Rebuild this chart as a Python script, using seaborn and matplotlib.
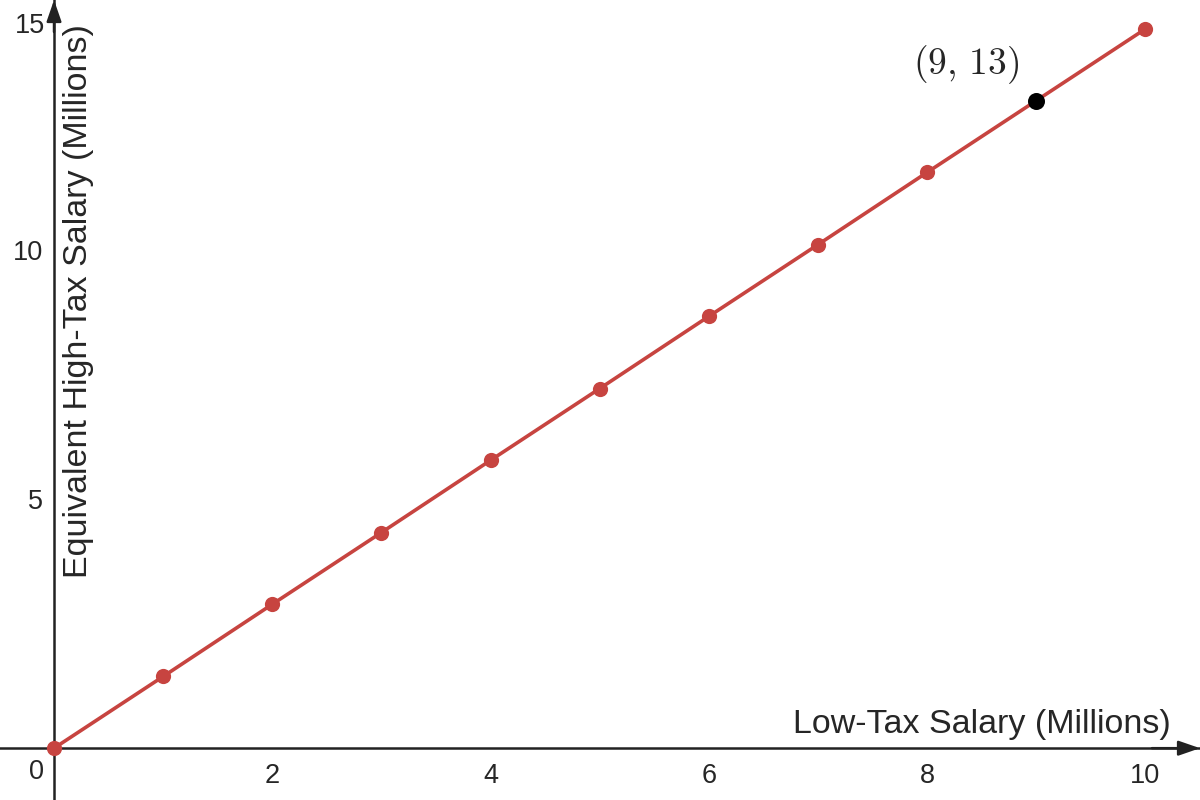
import numpy as np
import pandas as pd
import matplotlib
matplotlib.use("Agg")
import matplotlib.pyplot as plt
import seaborn as sns

# values
low_tax = [0, 1, 2, 3, 4, 5, 6, 7, 8, 9, 10]
high_tax = [0, 1.44, 2.89, 4.33, 5.78, 7.22, 8.67, 10.11, 11.56, 13.0, 14.44]
highlight_x = [9]
highlight_y = [13]
highlight_label = r"$(9,\,13)$"
x_ticks = [2, 4, 6, 8, 10]
y_ticks = [5, 10, 15]

RED = "#c74440"
AXIS = "#222222"

sns.set_style("white")
plt.rcParams["font.family"] = ["Liberation Sans", "DejaVu Sans"]
plt.rcParams["mathtext.fontset"] = "cm"

df = pd.DataFrame({"low": low_tax, "high": high_tax})
pt = pd.DataFrame({"low": highlight_x, "high": highlight_y})

fig = plt.figure(figsize=(12, 8), dpi=100)
ax = fig.add_axes([0, 0, 1, 1])

sns.lineplot(data=df, x="low", y="high", color=RED, lw=2.6, ax=ax, zorder=3)
sns.scatterplot(data=df, x="low", y="high", color=RED, s=120, edgecolor=RED,
                linewidth=0, ax=ax, zorder=4)
sns.scatterplot(data=pt, x="low", y="high", color="black", s=150, edgecolor="black",
                linewidth=0, ax=ax, zorder=5)
ax.text(highlight_x[0] - 0.64, highlight_y[0] + 0.72, highlight_label,
        fontsize=27, ha="center", va="center")

ax.set_xlim(-0.495, 10.5)
ax.set_ylim(-1.04, 15.02)

# axes through origin
for s in ["top", "right"]:
    ax.spines[s].set_visible(False)
ax.spines["left"].set_position(("data", 0))
ax.spines["bottom"].set_position(("data", 0))
for s in ["left", "bottom"]:
    ax.spines[s].set_linewidth(1.8)
    ax.spines[s].set_color(AXIS)

arrow = dict(arrowstyle="-|>,head_length=1.3,head_width=0.45",
             color=AXIS, lw=1.8, shrinkA=0, shrinkB=0)
ax.annotate("", xy=(1.0, 0), xycoords=("axes fraction", "data"),
            xytext=(0.96, 0), textcoords=("axes fraction", "data"),
            arrowprops=arrow)
ax.annotate("", xy=(0, 1.0), xycoords=("data", "axes fraction"),
            xytext=(0, 0.96), textcoords=("data", "axes fraction"),
            arrowprops=arrow)

ax.set_xticks(x_ticks)
ax.set_xticklabels([str(t) for t in x_ticks])
ax.set_yticks(y_ticks)
# top label is nudged down so it stays inside the figure
ax.set_yticklabels([str(t) for t in y_ticks[:-1]] + [""])
ax.tick_params(axis="both", direction="inout", length=10, width=1.5,
               color=AXIS, labelsize=19.5)
ax.tick_params(axis="x", pad=6)
ax.tick_params(axis="y", pad=3)
ax.text(-0.08, 14.5, str(y_ticks[-1]), fontsize=19.5, ha="right", va="center")
ax.text(-0.16, -0.22, "0", fontsize=19.5, ha="center", va="top")

ax.set_xlabel("")
ax.set_ylabel("")
ax.text(10.23, 0.3, "Low-Tax Salary (Millions)", fontsize=24.5,
        ha="right", va="baseline")
ax.text(0.22, 8.98, "Equivalent High-Tax Salary (Millions)", fontsize=24.5,
        rotation=90, ha="center", va="center")

fig.savefig("out.png", dpi=100)
